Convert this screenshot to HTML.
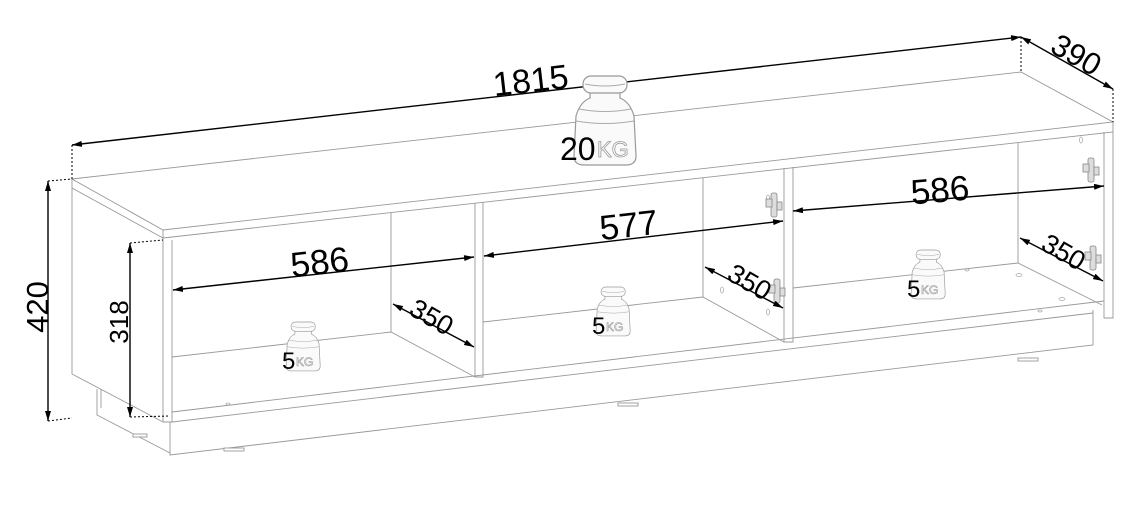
<!DOCTYPE html>
<html><head><meta charset="utf-8"><style>
html,body{margin:0;padding:0;background:#fff;}
svg{display:block;font-family:"Liberation Sans",Arial,sans-serif;}
</style></head><body>
<svg width="1146" height="512" viewBox="0 0 1146 512" xmlns="http://www.w3.org/2000/svg">
<defs>
<marker id="a" viewBox="0 0 10 6" refX="10" refY="3" markerWidth="10" markerHeight="6" orient="auto-start-reverse" markerUnits="userSpaceOnUse"><path d="M0,0 L10,3 L0,6 Z" fill="#000"/></marker>
<g id="w">
<path d="M18,15 L18,22 Q8,26 4,40 L2,80 Q2,89 12,89 L54,89 Q64,89 64,80 L62,40 Q58,26 48,22 L48,15 Z" fill="#fafafa" stroke="#999" stroke-width="1.2"/>
<path d="M7,33 Q33,38 59,33 M4,45 Q33,50 62,45" fill="none" stroke="#aaa" stroke-width="1"/>
<rect x="11" y="0" width="44" height="17" rx="8" fill="#fafafa" stroke="#999" stroke-width="1.2"/>
<path d="M13,8 Q33,12 53,8" fill="none" stroke="#aaa"/>
</g>
<g id="h" fill="#ddd" stroke="#888" stroke-width="0.8">
<rect x="-3" y="-12" width="6" height="24" rx="2"/><rect x="-8" y="-6" width="6" height="8"/><rect x="3" y="-3" width="5" height="8"/>
</g>
</defs>

<g fill="none" stroke="#999" stroke-width="0.9">
<path d="M72,179 L1021,72 L1113,122 L163,230 Z"/>
<path d="M72,179 L72,188 L163,238 L163,230"/>
<path d="M163,238 L1113,132 L1113,122"/>
<path d="M72,188 L72,374 L163,422"/>
<path d="M163,238 L163,422 M172,240 L172,422 M163,422 L172,422"/>
<path d="M97,389 L97,415 L170,453 M101,389 L101,408"/>
<path d="M170,422 L170,455 L1093,345 L1093,310"/>
<path d="M172,422 L1093,313"/>
<path d="M172,412 L1104,301"/>
<path d="M1104,132 L1104,318 L1113,318 L1113,132"/>
<path d="M475,203 L475,377 L483,377 L483,202"/>
<path d="M784,168 L784,342 L793,342 L793,167"/>
<path d="M391,213 L391,332 M703,178 L703,297 M1018,143 L1018,263"/>
<path d="M172,357 L391,332 L475,377"/>
<path d="M483,322 L703,297 L784,342"/>
<path d="M793,288 L1018,263 L1102,305"/>
</g>
<g fill="#fff" stroke="#999" stroke-width="0.9">
<rect x="133" y="434" width="14" height="3"/><rect x="224" y="448" width="20" height="3"/><rect x="618" y="403" width="20" height="3"/><rect x="1018" y="358" width="20" height="3"/>
</g>
<g fill="none" stroke="#aaa" stroke-width="0.8">
<ellipse cx="768" cy="198" rx="1.5" ry="3"/><ellipse cx="722" cy="290" rx="1.5" ry="3"/><ellipse cx="768" cy="312" rx="1.5" ry="3"/>
<ellipse cx="1081" cy="140" rx="1.5" ry="3"/><ellipse cx="1019" cy="275" rx="3" ry="1.5"/><ellipse cx="1062" cy="299" rx="3" ry="1.5"/><ellipse cx="967" cy="270" rx="2" ry="1"/><ellipse cx="1040" cy="311" rx="2" ry="1"/>
<ellipse cx="228" cy="404" rx="2" ry="1"/>
</g>
<use href="#h" x="774" y="205"/><use href="#h" x="777" y="291"/><use href="#h" x="1091" y="170"/><use href="#h" x="1093" y="258"/>

<g stroke="#000" stroke-width="1" stroke-dasharray="2,2" fill="none">
<path d="M72,145 L72,179 M1021,37 L1021,72 M1113,89 L1113,122"/>
<path d="M48,181 L72,179 M48,421 L72,418 M130,243 L163,240 M130,417 L170,416"/>
</g>
<g stroke="#000" stroke-width="1.4" marker-start="url(#a)" marker-end="url(#a)">
<line x1="72" y1="145" x2="1021" y2="37"/>
<line x1="1021" y1="37" x2="1113" y2="89"/>
<line x1="48" y1="181" x2="48" y2="421"/>
<line x1="130" y1="243" x2="130" y2="417"/>
<line x1="173" y1="290" x2="474" y2="257"/>
<line x1="484" y1="256" x2="783" y2="221"/>
<line x1="793" y1="211" x2="1104" y2="186"/>
<line x1="393" y1="304" x2="474" y2="347"/>
<line x1="705" y1="267" x2="783" y2="308"/>
<line x1="1020" y1="238" x2="1103" y2="281"/>
</g>

<use href="#w" transform="translate(572,76)"/>
<use href="#w" transform="translate(285,322) scale(0.55)"/>
<use href="#w" transform="translate(595,287) scale(0.55)"/>
<use href="#w" transform="translate(910,250) scale(0.55)"/>
<g font-size="32"><text x="560" y="160">20</text><text x="597" y="157" font-size="22" fill="#fff" stroke="#999" stroke-width="0.8">KG</text></g>
<g font-size="24">
<text x="282" y="369">5</text><text x="296" y="366" font-size="12" fill="#fff" stroke="#999" stroke-width="0.6">KG</text>
<text x="592" y="334">5</text><text x="606" y="331" font-size="12" fill="#fff" stroke="#999" stroke-width="0.6">KG</text>
<text x="907" y="297">5</text><text x="921" y="294" font-size="12" fill="#fff" stroke="#999" stroke-width="0.6">KG</text>
</g>

<g fill="#000" text-anchor="middle">
<text font-size="34" transform="translate(532,92) rotate(-6.5)">1815</text>
<text font-size="31" transform="translate(1071,64) rotate(30)">390</text>
<text font-size="31" transform="translate(48,307) rotate(-90)">420</text>
<text font-size="26" transform="translate(128,322) rotate(-90)">318</text>
<text font-size="35" transform="translate(321,274) rotate(-6.5)">586</text>
<text font-size="35" transform="translate(630,237) rotate(-6.5)">577</text>
<text font-size="35" transform="translate(941,202) rotate(-5)">586</text>
<text font-size="27" transform="translate(427,325) rotate(30)">350</text>
<text font-size="27" transform="translate(745,290) rotate(30)">350</text>
<text font-size="27" transform="translate(1059,260) rotate(30)">350</text>
</g>
</svg>
</body></html>
